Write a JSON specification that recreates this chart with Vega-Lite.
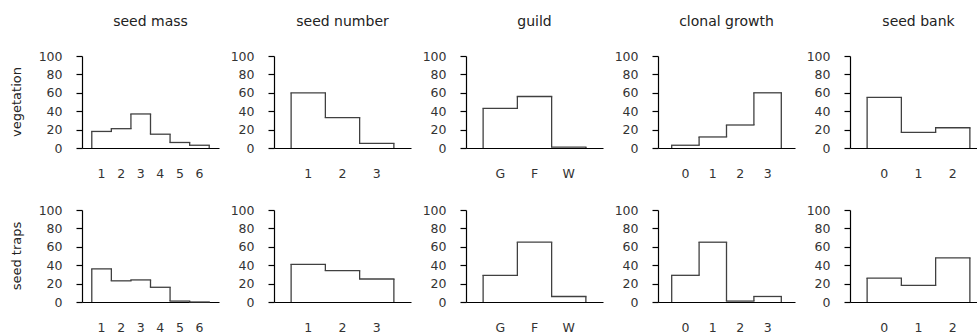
{
  "$schema": "https://vega.github.io/schema/vega-lite/v6.json",
  "background": "white",
  "padding": {"left": 10, "top": 15, "right": 0, "bottom": 0},
  "data": {
    "values": [
      {"trait": "seed mass", "sample": "vegetation", "k": 1, "cls": "1", "pct": 18},
      {"trait": "seed mass", "sample": "vegetation", "k": 2, "cls": "2", "pct": 21},
      {"trait": "seed mass", "sample": "vegetation", "k": 3, "cls": "3", "pct": 37},
      {"trait": "seed mass", "sample": "vegetation", "k": 4, "cls": "4", "pct": 15},
      {"trait": "seed mass", "sample": "vegetation", "k": 5, "cls": "5", "pct": 6},
      {"trait": "seed mass", "sample": "vegetation", "k": 6, "cls": "6", "pct": 3},
      {"trait": "seed mass", "sample": "seed traps", "k": 1, "cls": "1", "pct": 36},
      {"trait": "seed mass", "sample": "seed traps", "k": 2, "cls": "2", "pct": 23},
      {"trait": "seed mass", "sample": "seed traps", "k": 3, "cls": "3", "pct": 24},
      {"trait": "seed mass", "sample": "seed traps", "k": 4, "cls": "4", "pct": 16},
      {"trait": "seed mass", "sample": "seed traps", "k": 5, "cls": "5", "pct": 1},
      {"trait": "seed mass", "sample": "seed traps", "k": 6, "cls": "6", "pct": 0},
      {"trait": "seed number", "sample": "vegetation", "k": 1, "cls": "1", "pct": 60},
      {"trait": "seed number", "sample": "vegetation", "k": 2, "cls": "2", "pct": 33},
      {"trait": "seed number", "sample": "vegetation", "k": 3, "cls": "3", "pct": 5},
      {"trait": "seed number", "sample": "seed traps", "k": 1, "cls": "1", "pct": 41},
      {"trait": "seed number", "sample": "seed traps", "k": 2, "cls": "2", "pct": 34},
      {"trait": "seed number", "sample": "seed traps", "k": 3, "cls": "3", "pct": 25},
      {"trait": "guild", "sample": "vegetation", "k": 1, "cls": "G", "pct": 43},
      {"trait": "guild", "sample": "vegetation", "k": 2, "cls": "F", "pct": 56},
      {"trait": "guild", "sample": "vegetation", "k": 3, "cls": "W", "pct": 1},
      {"trait": "guild", "sample": "seed traps", "k": 1, "cls": "G", "pct": 29},
      {"trait": "guild", "sample": "seed traps", "k": 2, "cls": "F", "pct": 65},
      {"trait": "guild", "sample": "seed traps", "k": 3, "cls": "W", "pct": 6},
      {"trait": "clonal growth", "sample": "vegetation", "k": 1, "cls": "0", "pct": 3},
      {"trait": "clonal growth", "sample": "vegetation", "k": 2, "cls": "1", "pct": 12},
      {"trait": "clonal growth", "sample": "vegetation", "k": 3, "cls": "2", "pct": 25},
      {"trait": "clonal growth", "sample": "vegetation", "k": 4, "cls": "3", "pct": 60},
      {"trait": "clonal growth", "sample": "seed traps", "k": 1, "cls": "0", "pct": 29},
      {"trait": "clonal growth", "sample": "seed traps", "k": 2, "cls": "1", "pct": 65},
      {"trait": "clonal growth", "sample": "seed traps", "k": 3, "cls": "2", "pct": 1},
      {"trait": "clonal growth", "sample": "seed traps", "k": 4, "cls": "3", "pct": 6},
      {"trait": "seed bank", "sample": "vegetation", "k": 1, "cls": "0", "pct": 55},
      {"trait": "seed bank", "sample": "vegetation", "k": 2, "cls": "1", "pct": 17},
      {"trait": "seed bank", "sample": "vegetation", "k": 3, "cls": "2", "pct": 22},
      {"trait": "seed bank", "sample": "seed traps", "k": 1, "cls": "0", "pct": 26},
      {"trait": "seed bank", "sample": "seed traps", "k": 2, "cls": "1", "pct": 18},
      {"trait": "seed bank", "sample": "seed traps", "k": 3, "cls": "2", "pct": 48}
    ]
  },
  "transform": [
    {"window": [{"op": "lag", "field": "pct", "as": "prev"}], "groupby": ["trait", "sample"], "sort": [{"field": "k"}]},
    {"joinaggregate": [{"op": "max", "field": "k", "as": "kmax"}], "groupby": ["trait", "sample"]}
  ],
  "facet": {
    "row": {
      "field": "sample", "type": "nominal", "sort": ["vegetation", "seed traps"],
      "header": {"title": null, "labelFontSize": 13, "labelColor": "#222", "labelPadding": 58.5}
    },
    "column": {
      "field": "trait", "type": "nominal",
      "sort": ["seed mass", "seed number", "guild", "clonal growth", "seed bank"],
      "header": {"title": null, "labelFontSize": 14, "labelColor": "#222", "labelPadding": 26.7}
    }
  },
  "spacing": {"column": 55, "row": 62},
  "bounds": "flush",
  "resolve": {"scale": {"x": "independent"}, "axis": {"x": "independent", "y": "independent"}},
  "spec": {
    "width": 137,
    "height": 92,
    "encoding": {
      "x": {
        "field": "cls", "type": "ordinal", "sort": ["0", "1", "2", "3", "4", "5", "6", "G", "F", "W"],
        "scale": {"paddingInner": 0, "paddingOuter": 0.5},
        "axis": {"title": null, "ticks": false, "labelAngle": 0, "labelPadding": 19.5, "labelFontSize": 12.5, "labelColor": "#333", "domainColor": "#000", "domainWidth": 1.2}
      },
      "y": {
        "field": "pct", "type": "quantitative",
        "scale": {"domain": [0, 100], "nice": false, "zero": true},
        "axis": {"title": null, "grid": false, "values": [0, 20, 40, 60, 80, 100], "tickSize": 6, "tickColor": "#000", "tickWidth": 1.2, "labelPadding": 14, "labelFontSize": 12.5, "labelColor": "#333", "domainColor": "#000", "domainWidth": 1.2}
      }
    },
    "layer": [
      {
        "mark": {"type": "rule", "color": "#404040", "strokeWidth": 1.3, "strokeCap": "square"},
        "encoding": {
          "x": {"field": "cls", "type": "ordinal", "bandPosition": 0, "sort": ["0", "1", "2", "3", "4", "5", "6", "G", "F", "W"]},
          "x2": {"field": "cls", "bandPosition": 1}
        }
      },
      {
        "transform": [{"filter": "datum.k == 1"}],
        "mark": {"type": "rule", "color": "#404040", "strokeWidth": 1.3},
        "encoding": {
          "x": {"field": "cls", "type": "ordinal", "bandPosition": 0, "sort": ["0", "1", "2", "3", "4", "5", "6", "G", "F", "W"]},
          "y2": {"datum": 0}
        }
      },
      {
        "transform": [{"filter": "datum.k > 1"}],
        "mark": {"type": "rule", "color": "#404040", "strokeWidth": 1.3},
        "encoding": {
          "x": {"field": "cls", "type": "ordinal", "bandPosition": 0, "sort": ["0", "1", "2", "3", "4", "5", "6", "G", "F", "W"]},
          "y2": {"field": "prev"}
        }
      },
      {
        "transform": [{"filter": "datum.k == datum.kmax"}],
        "mark": {"type": "rule", "color": "#404040", "strokeWidth": 1.3},
        "encoding": {
          "x": {"field": "cls", "type": "ordinal", "bandPosition": 1, "sort": ["0", "1", "2", "3", "4", "5", "6", "G", "F", "W"]},
          "y2": {"datum": 0}
        }
      }
    ]
  },
  "config": {
    "font": "DejaVu Sans",
    "view": {"stroke": null},
    "header": {"labelFont": "DejaVu Sans"}
  }
}
